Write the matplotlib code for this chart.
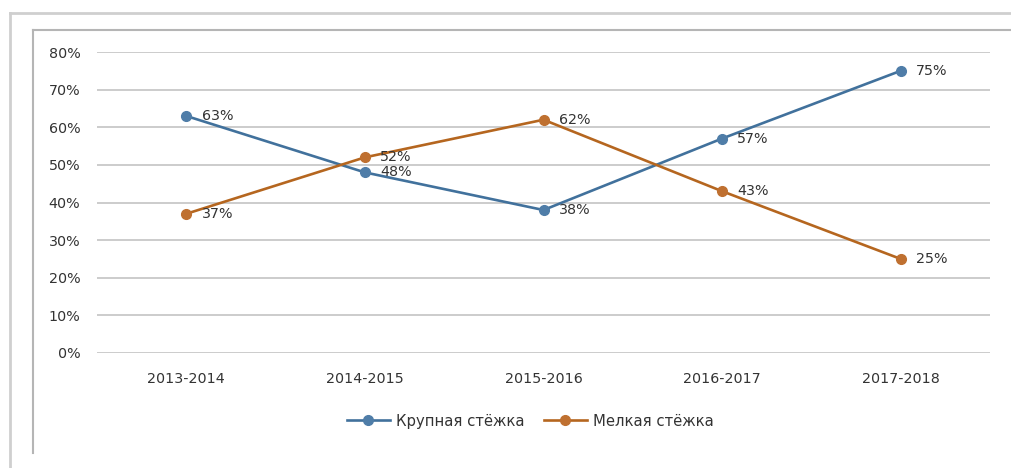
import matplotlib
matplotlib.use("Agg")
import matplotlib.pyplot as plt
from matplotlib.lines import Line2D
from matplotlib.ticker import PercentFormatter

categories = ["2013-2014", "2014-2015", "2015-2016", "2016-2017", "2017-2018"]
large_stitch = [63, 48, 38, 57, 75]
small_stitch = [37, 52, 62, 43, 25]
series_names = ["Крупная стёжка", "Мелкая стёжка"]
yticks = [0, 10, 20, 30, 40, 50, 60, 70, 80]

plt.rcParams['font.family'] = ['DejaVu Sans']

W, H = 1011, 468
fig = plt.figure(figsize=(W / 100, H / 100), dpi=100)
fig.patch.set_facecolor("white")

def fx(px):
    return px / W

def fy(py):
    return 1 - py / H

ax = fig.add_axes([fx(97), fy(353), fx(990) - fx(97), fy(52) - fy(353)])
ax.set_facecolor("none")

blue = "#41719C"
blue_m = "#4F7DA8"
orange = "#B5661F"
orange_m = "#BF7030"
txt = "#333333"
fs = 10.3

x = list(range(len(categories)))
ax.plot(x, large_stitch, color=blue, lw=1.9, marker="o", ms=7,
        mfc=blue_m, mec=blue_m, label=series_names[0], zorder=3)
ax.plot(x, small_stitch, color=orange, lw=1.9, marker="o", ms=7,
        mfc=orange_m, mec=orange_m, label=series_names[1], zorder=3)

for xi, v in zip(x, large_stitch):
    ax.annotate(f"{v}%", (xi, v), xytext=(11, 0), textcoords="offset points",
                ha="left", va="center", fontsize=fs, color=txt, zorder=4)
for xi, v in zip(x, small_stitch):
    ax.annotate(f"{v}%", (xi, v), xytext=(11, 0), textcoords="offset points",
                ha="left", va="center", fontsize=fs, color=txt, zorder=4)

ax.set_xlim(-0.5, len(categories) - 0.5)
ax.set_ylim(0, 80)
ax.set_yticks(yticks)
ax.yaxis.set_major_formatter(PercentFormatter(decimals=0))
ax.set_xticks(x)
ax.set_xticklabels(categories)
ax.tick_params(axis="both", length=0, labelsize=fs, labelcolor=txt)
ax.tick_params(axis="y", pad=12)
ax.tick_params(axis="x", pad=14)
ax.grid(axis="y", color="#BFBFBF", lw=1.1, zorder=0)
for s in ax.spines.values():
    s.set_visible(False)

fig.legend(loc="center", bbox_to_anchor=(fx(530), fy(421)), ncol=2,
           frameon=False, fontsize=fs + 0.4, handlelength=2.9, columnspacing=1.3,
           handletextpad=0.4, labelcolor=txt)

# frames
fig.add_artist(Line2D([fx(10), fx(1011)], [fy(13), fy(13)], color="#CFCFCF", lw=2))
fig.add_artist(Line2D([fx(10), fx(10)], [fy(13), fy(468)], color="#CFCFCF", lw=2))
fig.add_artist(Line2D([fx(33), fx(1011)], [fy(29.5), fy(29.5)], color="#B5B5B5", lw=1.5))
fig.add_artist(Line2D([fx(33), fx(33)], [fy(29.5), fy(453)], color="#B5B5B5", lw=1.5))

fig.savefig("out.png", dpi=100)
